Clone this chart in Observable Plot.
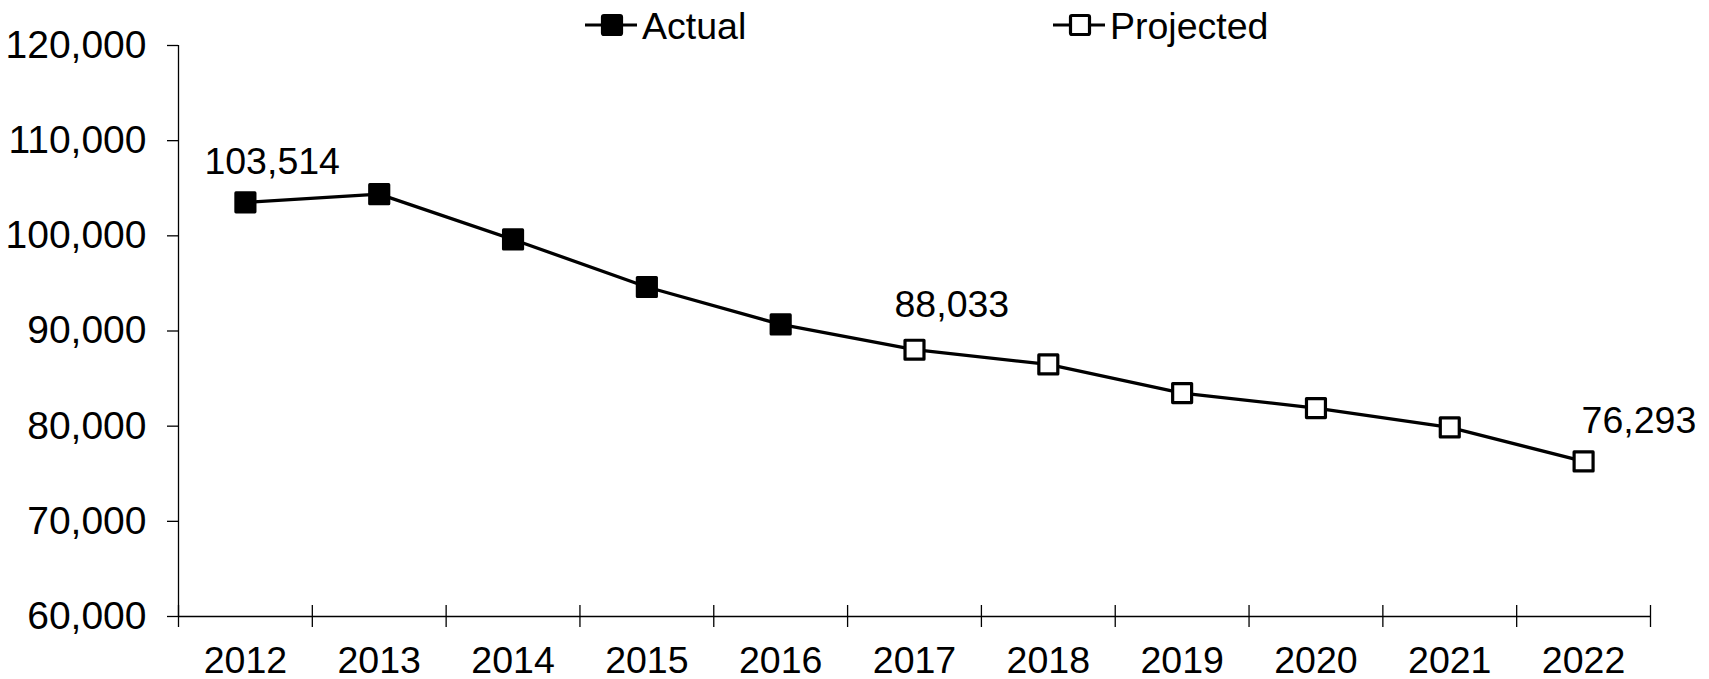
<!DOCTYPE html>
<html>
<head>
<meta charset="utf-8">
<script src="https://cdn.jsdelivr.net/npm/d3@7"></script>
<script src="https://cdn.jsdelivr.net/npm/@observablehq/plot@0.6"></script>
<style>
  html, body { margin: 0; padding: 0; background: #fff; }
  #wrap { position: relative; width: 1709px; height: 679px; font-family: "Liberation Sans", Arial, sans-serif; }
  #legend { position: absolute; left: 0; top: 0; }
</style>
</head>
<body>
<div id="wrap"></div>
<script>
// ---- data ----
const years = [2012, 2013, 2014, 2015, 2016, 2017, 2018, 2019, 2020, 2021, 2022];
const actualValues = [103514, 104380, 99620, 94620, 90690];
const projectedValues = [88033, 86490, 83480, 81900, 79870, 76293];
const yTicks = [60000, 70000, 80000, 90000, 100000, 110000, 120000];
const labeledYears = [2012, 2017, 2022];
const legendLabels = ["Actual", "Projected"];

// ---- build table ----
const allValues = actualValues.concat(projectedValues);
const rows = years.map((year, i) => ({
  year,
  value: allValues[i],
  kind: i < actualValues.length ? legendLabels[0] : legendLabels[1]
}));
const boundaries = years.map(y => y - 0.5).concat([years[years.length - 1] + 0.5]);
const fmt = d3.format(",");

const labelOffsets = { 2012: { dx: -41, dy: -28 }, 2017: { dx: -20, dy: -33 }, 2022: { dx: -2, dy: -28 } };
const labelMarks = labeledYears.map(yr =>
  Plot.text(rows.filter(r => r.year === yr), {
    x: "year", y: "value", text: d => fmt(d.value),
    textAnchor: "start", lineAnchor: "bottom",
    dx: labelOffsets[yr].dx, dy: labelOffsets[yr].dy,
    fill: "black", fontSize: 37.5
  })
);

const chart = Plot.plot({
  width: 1709,
  height: 679,
  marginLeft: 178,
  marginRight: 59,
  marginTop: 45,
  marginBottom: 63,
  style: { fontFamily: "'Liberation Sans', Arial, sans-serif", fontSize: "37.5px", color: "black", background: "white", overflow: "visible" },
  x: { type: "linear", domain: [boundaries[0], boundaries[boundaries.length - 1]] },
  y: { domain: [yTicks[0], yTicks[yTicks.length - 1]] },
  marks: [
    Plot.axisY({ ticks: yTicks, tickSize: 11, tickPadding: 21, tickFormat: fmt, label: null, fontSize: 39, strokeWidth: 1.3 }),
    Plot.axisX({ ticks: years, tickSize: 0, tickPadding: 30, tickFormat: d => String(d), label: null, fontSize: 37.5 }),
    Plot.ruleX([boundaries[0]], { y1: yTicks[0], y2: yTicks[yTicks.length - 1], stroke: "black", strokeWidth: 1.3 }),
    Plot.ruleY([yTicks[0]], { stroke: "black", strokeWidth: 1.3 }),
    Plot.ruleX(boundaries, { y1: yTicks[0], y2: yTicks[0], insetTop: -11, insetBottom: -11, stroke: "black", strokeWidth: 1.3 }),
    Plot.line(rows, { x: "year", y: "value", stroke: "black", strokeWidth: 3.3 }),
    Plot.dot(rows, {
      x: "year", y: "value", symbol: "square", r: 10.7,
      fill: d => d.kind === legendLabels[0] ? "black" : "white",
      stroke: "black", strokeWidth: 3.2, strokeLinejoin: "round"
    }),
    ...labelMarks
  ]
});

const wrap = document.getElementById("wrap");
wrap.appendChild(chart);

// ---- legend (overlay above the plot area) ----
const legendPos = [585, 1053];
const leg = d3.select(wrap).append("svg")
  .attr("id", "legend").attr("width", 1709).attr("height", 45)
  .style("overflow", "visible");
legendLabels.forEach((lab, i) => {
  const g = leg.append("g").attr("transform", `translate(${legendPos[i]},25)`);
  g.append("line").attr("x1", 0).attr("x2", 52).attr("y1", 0).attr("y2", 0)
    .attr("stroke", "black").attr("stroke-width", 3.2);
  g.append("rect").attr("x", 17.5).attr("y", -9.5).attr("width", 19).attr("height", 19)
    .attr("rx", 1.5)
    .attr("fill", i === 0 ? "black" : "white").attr("stroke", "black").attr("stroke-width", 3.2);
  g.append("text").attr("x", 57).attr("y", 13.5)
    .attr("font-family", "'Liberation Sans', Arial, sans-serif").attr("font-size", 37.5)
    .attr("fill", "black").text(lab);
});
</script>
</body>
</html>
